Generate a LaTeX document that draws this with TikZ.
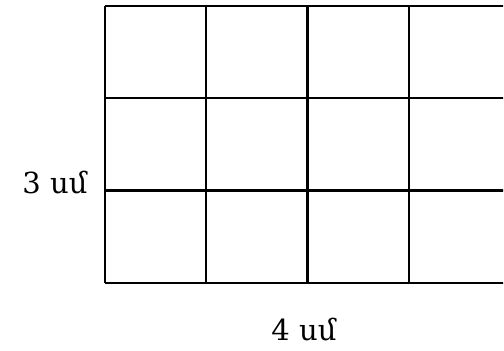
\documentclass[tikz,border=0pt]{standalone}
\usepackage{fontspec}
\setmainfont{DejaVu Serif}
\usetikzlibrary{calc,positioning}

\begin{document}
\begin{tikzpicture}[x=0.5pt, y=-0.5pt, every node/.style={font=\fontsize{14.5}{14.5}\selectfont}]

    % Setup with pixel-like units
    \def\cw{101.2}    % cell width
    \def\ch{92.3}     % cell height
    \def\nx{4}        % columns
    \def\ny{3}        % rows

    \useasboundingbox (0,0) rectangle (504,351);

    % Grid corner
    \coordinate (GTL) at (105,6);
    \coordinate (GBR) at ($(GTL) + (\nx*\cw,\ny*\ch)$);

    % Grid lines
    \begin{scope}
        \clip (0,0) rectangle (503,351);
        \foreach \i in {0,...,\nx} {
            \draw[line width=1.1pt] ($(GTL) + (\i*\cw,0)$) -- ++(0,\ny*\ch);
        }
        \foreach \j in {0,...,\ny} {
            \draw[line width=1.1pt] ($(GTL) + (0,\j*\ch)$) -- ++(\nx*\cw,0);
        }
    \end{scope}

    % Side labels
    \node (height) at (55,183) {3 սմ};
    \node (width) at (304,330) {4 սմ};

\end{tikzpicture}
\end{document}
